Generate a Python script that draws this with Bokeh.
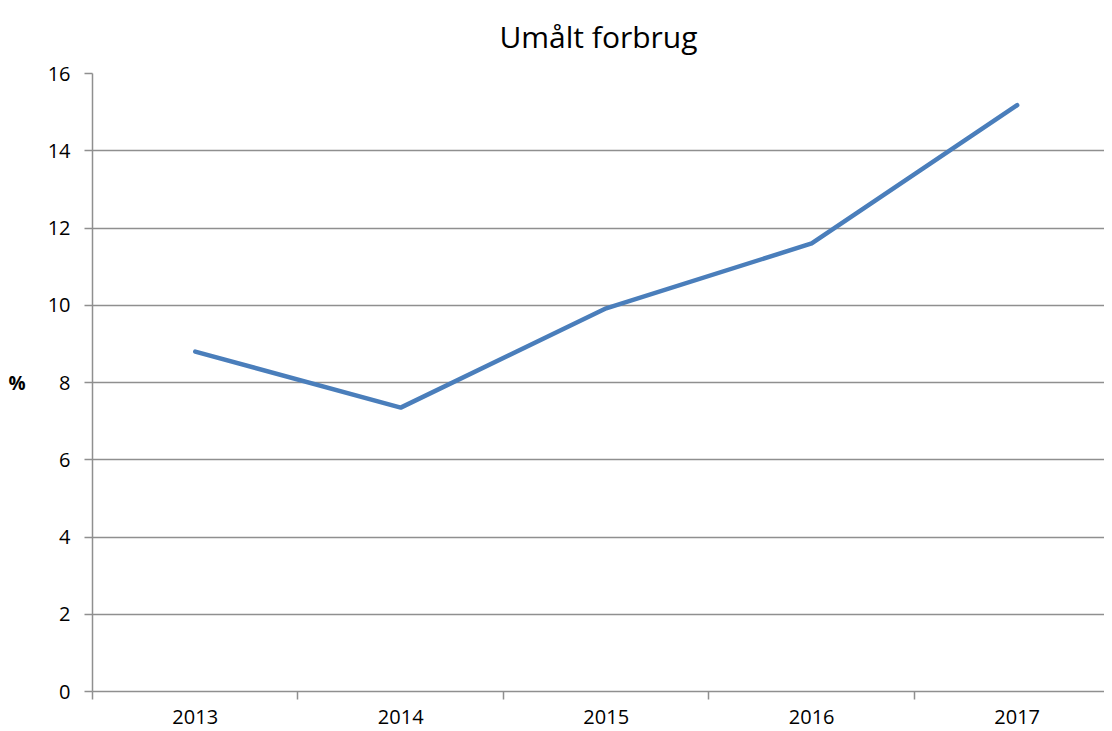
from bokeh.plotting import figure
from bokeh.models import Range1d, FixedTicker
from bokeh.embed import file_html
from bokeh.resources import INLINE

years = ["2013", "2014", "2015", "2016", "2017"]
values = [8.8, 7.35, 9.92, 11.6, 15.18]
y_ticks = [0, 2, 4, 6, 8, 10, 12, 14, 16]

xs = [i + 0.5 for i in range(len(years))]

FONT = "Open Sans"
GRID = "#8f8f8f"

p = figure(frame_width=1012, frame_height=618, output_backend="svg",
           toolbar_location=None, x_range=Range1d(0, 4.925), y_range=Range1d(0, 16),
           min_border_left=92, min_border_top=73, min_border_right=0, min_border_bottom=38)

p.title.text = "Umålt forbrug"
p.title.align = "center"
p.title.vertical_align = "top"
p.title.text_font = FONT
p.title.text_font_size = "30px"
p.title.text_font_style = "normal"
p.title.text_color = "#000000"
p.title.offset = 0
p.title.standoff = 29

p.line(xs, values, line_color="#4a7ebb", line_width=4.5, line_cap="round", line_join="round")

p.outline_line_color = None
p.xgrid.grid_line_color = None
p.ygrid.grid_line_color = GRID
p.ygrid.grid_line_width = 1.5
p.ygrid.ticker = FixedTicker(ticks=y_ticks)

p.xaxis.ticker = FixedTicker(ticks=xs, minor_ticks=[0, 1, 2, 3, 4, 5])
p.xaxis.major_label_overrides = {x: y for x, y in zip(xs, years)}
p.xaxis.major_tick_out = 0
p.xaxis.major_tick_in = 0
p.xaxis.minor_tick_out = 8
p.xaxis.minor_tick_in = 0
p.xaxis.minor_tick_line_color = GRID
p.xaxis.minor_tick_line_width = 1.5
p.xaxis.axis_line_color = GRID
p.xaxis.axis_line_width = 1.5
p.xaxis.major_label_standoff = 10
p.xaxis.major_label_text_font = FONT
p.xaxis.major_label_text_font_size = "20px"
p.xaxis.major_label_text_color = "#000000"

p.yaxis.ticker = FixedTicker(ticks=y_ticks, minor_ticks=[])
p.yaxis.major_tick_out = 8
p.yaxis.major_tick_in = 0
p.yaxis.major_tick_line_color = GRID
p.yaxis.major_tick_line_width = 1.5
p.yaxis.axis_line_color = GRID
p.yaxis.axis_line_width = 1.5
p.yaxis.major_label_standoff = 14
p.yaxis.major_label_text_font = FONT
p.yaxis.major_label_text_font_size = "20px"
p.yaxis.major_label_text_color = "#000000"
p.yaxis.axis_label = "%"
p.yaxis.axis_label_orientation = "horizontal"
p.yaxis.axis_label_text_font = FONT
p.yaxis.axis_label_text_font_size = "19px"
p.yaxis.axis_label_text_font_style = "bold"
p.yaxis.axis_label_text_color = "#000000"
p.yaxis.axis_label_standoff = 19

open("out.html", "w").write(file_html(p, INLINE))
